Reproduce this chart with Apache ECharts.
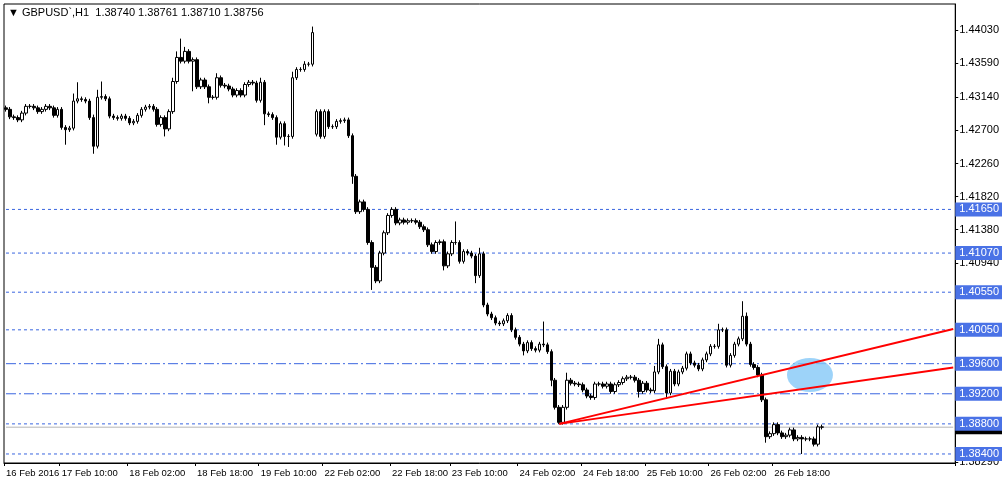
<!DOCTYPE html>
<html>
<head>
<meta charset="utf-8">
<title>GBPUSD H1</title>
<script src="https://cdn.jsdelivr.net/npm/echarts@6/dist/echarts.min.js"></script>
<style>
  html, body { margin: 0; padding: 0; background: #fff; }
  #main { width: 1002px; height: 486px; }
</style>
</head>
<body>
<div id="main"></div>
<script>
// hourly closes
var closes = [
  1.4298,1.4288,1.4287,1.4284,1.4293,1.4302,1.4302,1.4300,1.4295,1.4298,
  1.4302,1.4300,1.4290,1.4298,1.4274,1.4271,1.4273,1.4309,1.4312,1.4311,
  1.4309,1.4287,1.4249,1.4314,1.4315,1.4312,1.4289,1.4287,1.4286,1.4289,
  1.4286,1.4280,1.4282,1.4290,1.4298,1.4301,1.4302,1.4298,1.4278,1.4287,
  1.4272,1.4295,1.4335,1.4367,1.4362,1.4375,1.4362,1.4364,1.4328,1.4337,
  1.4328,1.4314,1.4314,1.4340,1.4330,1.4329,1.4325,1.4317,1.4323,1.4317,
  1.4331,1.4334,1.4333,1.4310,1.4334,1.4292,1.4291,1.4287,1.4261,1.4279,
  1.4262,1.4262,1.4340,1.4351,1.4351,1.4358,1.4358,1.4400,
  1.4295,1.4262,1.4295,1.4275,1.4275,1.4282,1.4283,1.4284,1.4263,1.4209,1.4162,1.4175,
  1.4165,1.4121,1.4088,1.4070,1.4107,1.4134,1.4157,1.4165,1.4147,1.4151,
  1.4148,1.4150,1.4150,1.4148,1.4142,1.4138,1.4118,1.4109,1.4121,1.4122,
  1.4090,1.4106,1.4121,1.4121,1.4096,1.4109,1.4107,1.4103,1.4077,1.4106,
  1.4038,1.4026,1.4021,1.4014,1.4013,1.4017,1.4024,1.4005,1.3995,1.3986,
  1.3977,1.3988,1.3980,1.3978,1.3986,1.3985,1.3976,1.3938,1.3902,1.3882,
  1.3902,1.3938,1.3934,1.3933,1.3932,1.3925,1.3917,1.3915,1.3933,1.3933,
  1.3930,1.3933,1.3923,1.3932,1.3935,1.3940,1.3942,1.3942,1.3938,1.3923,
  1.3934,1.3925,1.3924,1.3949,1.3985,1.3956,1.3921,1.3950,1.3933,1.3949,
  1.3954,1.3973,1.3961,1.3958,1.3953,1.3965,1.3973,1.3983,1.3983,1.4005,
  1.4005,1.3958,1.3971,1.3986,1.3993,1.4023,1.3986,1.3959,1.3955,1.3945,
  1.3912,1.3863,1.3867,1.3879,1.3868,1.3863,1.3865,1.3872,1.3860,1.3862,
  1.3860,1.3860,1.3860,1.3853,1.3876,1.38756
];
var firstOpen = 1.4300;
var weekendBar = 78, weekendOpen = 1.4265;
// wick lengths in pips where they differ from the usual 3
var upWicks = [[17,10],[18,22],[22,4],[23,10],[24,20],[42,5],[43,8],[44,25],[45,6],[53,6],[64,6],
  [72,8],[75,4],[77,8],[113,28],[119,8],[135,30],[141,10],[163,8],[164,8],[179,8],[185,20],[186,5]];
var downWicks = [[15,20],[22,10],[40,10],[47,40],[51,8],[65,15],[68,10],[70,12],[71,14],[87,10],
  [92,30],[110,6],[118,10],[130,6],[137,8],[139,2],[159,8],[166,8],[191,8],[200,20]];
var emptySlots = 33;

var tickLabels = ['16 Feb 2016','17 Feb 10:00','18 Feb 02:00','18 Feb 18:00','19 Feb 10:00','22 Feb 02:00',
  '22 Feb 18:00','23 Feb 10:00','24 Feb 02:00','24 Feb 18:00','25 Feb 10:00','26 Feb 02:00','26 Feb 18:00'];
var tickIdx = [0,14,31,48,64,80,97,112,129,145,161,177,193];
var priceTicks = [1.44030,1.43590,1.43140,1.42700,1.42260,1.41820,1.41380,1.40940,1.38290];
var levels = [1.4165,1.4107,1.4055,1.4005,1.3960,1.3920,1.3880,1.3840];
var levelDash = ['dotted','dotted','dotted','dotted','dashdot','dashdot','dotted','dotted'];

var up = {}, dn = {};
upWicks.forEach(function (w) { up[w[0]] = w[1]; });
downWicks.forEach(function (w) { dn[w[0]] = w[1]; });

var candles = [];
var cats = [];
for (var i = 0; i < closes.length + emptySlots; i++) {
  var k = tickIdx.indexOf(i);
  cats.push(k >= 0 ? tickLabels[k] : '');
  if (i >= closes.length) { candles.push('-'); continue; }
  var o = i === 0 ? firstOpen : (i === weekendBar ? weekendOpen : closes[i - 1]);
  var c = closes[i];
  var hi = Math.max(o, c) + (up[i] !== undefined ? up[i] : 3) * 0.0001;
  var lo = Math.min(o, c) - (dn[i] !== undefined ? dn[i] : 3) * 0.0001;
  candles.push([o, c, lo, hi]);
}

var blue = '#3a66e0';
var lastSlot = closes.length + emptySlots - 1;
var labelFont = 'Liberation Sans';

function levelSeries(v, j) {
  var dotted = levelDash[j] === 'dotted';
  return {
    type: 'line', silent: true, symbol: 'none', z: 1,
    data: [[0, v], [lastSlot, v]],
    lineStyle: { color: blue, width: 1, type: dotted ? [3, 3] : [10, 3, 2, 3] },
    endLabel: { show: true, formatter: v.toFixed(5), color: '#fff', backgroundColor: '#4a72e6',
      padding: [2, 4, 1, 4], fontSize: 11, fontFamily: labelFont, distance: 2 }
  };
}

var series = [
  {
    type: 'candlestick', data: candles, barWidth: 3, z: 3,
    itemStyle: { color: '#fff', color0: '#000', borderColor: '#000', borderColor0: '#000', borderWidth: 1 }
  },
  {
    type: 'scatter', silent: true, z: 2,
    data: [[202, 1.3945]],
    symbol: 'circle', symbolSize: [46, 34],
    itemStyle: { color: '#84c8f8' }
  },
  {
    type: 'line', silent: true, symbol: 'none', z: 1,
    data: [[0, 1.38756], [lastSlot, 1.38756]],
    lineStyle: { color: '#b4b4b4', width: 1 },
    endLabel: { show: true, formatter: '1.38756', color: '#fff', backgroundColor: '#000',
      padding: [2, 4, 1, 4], fontSize: 11, fontFamily: labelFont, distance: 2 }
  },
  {
    type: 'line', silent: true, symbol: 'none', z: 4,
    data: [[139, 1.3880], [lastSlot, 1.4006]],
    lineStyle: { color: '#ff0000', width: 2 }
  },
  {
    type: 'line', silent: true, symbol: 'none', z: 4,
    data: [[139, 1.3880], [lastSlot, 1.3955]],
    lineStyle: { color: '#ff0000', width: 2 }
  }
].concat(levels.map(levelSeries));

var myChart = echarts.init(document.getElementById('main'));
myChart.setOption({
  animation: false,
  textStyle: { fontFamily: labelFont, fontSize: 11 },
  graphic: [{
    type: 'text', left: 8, top: 7,
    style: { text: '\u25BC GBPUSD`,H1  1.38740 1.38761 1.38710 1.38756', fill: '#000',
      font: '11px "Liberation Sans"' }
  }],
  grid: { left: 4, right: 45, top: 4, bottom: 23, show: true, borderColor: '#000', borderWidth: 1 },
  xAxis: {
    type: 'category', data: cats, boundaryGap: true,
    axisLine: { lineStyle: { color: '#000' } },
    axisTick: { show: true, length: 3, lineStyle: { color: '#000' },
      interval: function (idx, val) { return val !== ''; } },
    axisLabel: { interval: function (idx, val) { return val !== ''; }, hideOverlap: false,
      showMinLabel: true, showMaxLabel: true, align: 'left', color: '#000', fontSize: 9.5,
      fontFamily: labelFont, margin: 5 },
    splitLine: { show: false }
  },
  yAxis: {
    type: 'value', position: 'right', min: 1.3828, max: 1.4438,
    axisLine: { show: true, lineStyle: { color: '#000' } },
    axisTick: { show: true, length: 3, customValues: priceTicks, lineStyle: { color: '#000' } },
    axisLabel: { customValues: priceTicks, color: '#000', fontSize: 11, fontFamily: labelFont, margin: 4,
      formatter: function (v) { return v.toFixed(5); } },
    splitLine: { show: false }
  },
  series: series
});
</script>
</body>
</html>
